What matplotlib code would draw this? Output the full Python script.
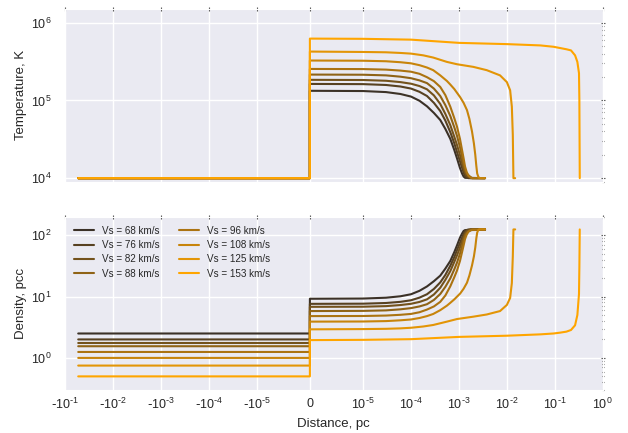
import matplotlib
matplotlib.use("Agg")
import matplotlib.pyplot as plt
from matplotlib.ticker import FuncFormatter
import seaborn as sns
import numpy as np

sns.set_style("darkgrid")
plt.rcParams['font.family'] = ['Liberation Sans', 'DejaVu Sans']
plt.rcParams['axes.unicode_minus'] = False

# ---------------- data ----------------
velocities = [68, 76, 82, 88, 96, 108, 125, 153]
x_start = -0.053            # pc, left end of pre-shock gas
T_pre = 1.0e4               # K
n_pre = [2.5, 2.0, 1.75, 1.55, 1.25, 1.0, 0.75, 0.5]

x_68 = [0, 1e-5, 3e-5, 6e-5, 1e-4, 1.5e-4, 2.15e-4, 3e-4, 4.07e-4, 5.2e-4, 6.6e-4, 8e-4,
        9.1e-4, 1.05e-3, 1.16e-3, 1.25e-3, 1.34e-3, 3.5e-3]
T_68 = [1.33e5, 1.32e5, 1.28e5, 1.21e5, 1.12e5, 9.9e4, 8.4e4, 6.9e4, 5.6e4, 4.3e4, 3.2e4, 2.3e4,
        1.8e4, 1.35e4, 1.15e4, 1.05e4, 1.01e4, 1.0e4]
n_68 = [9.2, 9.28, 9.57, 10.1, 10.9, 12.4, 14.6, 17.8, 21.9, 28.5, 38, 53,
        68, 91, 106, 117, 121, 122]

x_76 = [0, 1e-5, 3e-5, 6e-5, 1e-4, 1.5e-4, 2.15e-4, 3e-4, 4.07e-4, 5.2e-4, 6.6e-4, 8e-4,
        9.1e-4, 1.05e-3, 1.16e-3, 1.25e-3, 1.34e-3, 1.45e-3, 1.58e-3, 3.5e-3]
T_76 = [1.63e5, 1.62e5, 1.58e5, 1.51e5, 1.42e5, 1.29e5, 1.14e5, 9.3e4, 7.3e4, 5.5e4, 3.9e4, 2.8e4,
        2.17e4, 1.65e4, 1.36e4, 1.18e4, 1.07e4, 1.02e4, 1.0e4, 1.0e4]
n_76 = [7.6, 7.65, 7.85, 8.2, 8.7, 9.6, 10.9, 13.3, 17, 22.5, 31.8, 44,
        57, 75, 91, 105, 116, 121.5, 124, 124]

x_82 = [0, 1e-5, 3e-5, 6e-5, 1e-4, 1.5e-4, 2.15e-4, 3e-4, 4.07e-4, 5.2e-4, 6.6e-4, 8e-4,
        9.1e-4, 1.05e-3, 1.16e-3, 1.25e-3, 1.34e-3, 1.45e-3, 1.58e-3, 1.75e-3, 3.5e-3]
T_82 = [1.84e5, 1.83e5, 1.79e5, 1.72e5, 1.64e5, 1.53e5, 1.39e5, 1.16e5, 9.0e4, 6.7e4, 4.8e4, 3.4e4,
        2.67e4, 1.98e4, 1.57e4, 1.33e4, 1.17e4, 1.08e4, 1.04e4, 1.0e4, 1.0e4]
n_82 = [6.8, 6.83, 6.98, 7.27, 7.62, 8.17, 9.0, 10.8, 13.9, 18.7, 26, 36.8,
        46.8, 63, 79.6, 94, 107, 115.7, 120, 125, 125]

x_88 = [0, 1e-5, 3e-5, 6e-5, 1e-4, 1.5e-4, 2.15e-4, 3e-4, 4.07e-4, 5.2e-4, 6.6e-4, 8e-4,
        9.1e-4, 1.05e-3, 1.16e-3, 1.25e-3, 1.34e-3, 1.45e-3, 1.58e-3, 1.75e-3, 1.9e-3, 3.5e-3]
T_88 = [2.15e5, 2.14e5, 2.1e5, 2.02e5, 1.93e5, 1.81e5, 1.67e5, 1.42e5, 1.14e5, 8.7e4, 6.3e4, 4.5e4,
        3.5e4, 2.5e4, 1.87e4, 1.5e4, 1.28e4, 1.15e4, 1.09e4, 1.03e4, 1.0e4, 1.0e4]
n_88 = [5.8, 5.84, 5.95, 6.19, 6.48, 6.9, 7.5, 8.8, 11, 14.4, 19.8, 27.8,
        35.7, 50, 67, 83, 98, 109, 115, 121, 125, 125]

x_96 = [0, 1e-5, 3e-5, 6e-5, 1e-4, 1.5e-4, 2.15e-4, 3e-4, 4.07e-4, 5.2e-4, 6.6e-4, 8e-4,
        9.1e-4, 1.05e-3, 1.16e-3, 1.25e-3, 1.34e-3, 1.45e-3, 1.58e-3, 1.75e-3, 1.9e-3, 3.5e-3]
T_96 = [2.54e5, 2.53e5, 2.49e5, 2.42e5, 2.34e5, 2.2e5, 1.99e5, 1.77e5, 1.49e5, 1.17e5, 8.3e4, 5.9e4,
        4.6e4, 3.2e4, 2.3e4, 1.8e4, 1.41e4, 1.2e4, 1.07e4, 1.02e4, 1.0e4, 1.0e4]
n_96 = [4.8, 4.82, 4.9, 5.04, 5.21, 5.55, 6.13, 6.9, 8.2, 10.4, 14.7, 20.7,
        26.5, 38, 53, 68, 86.5, 102, 114, 119.6, 122, 122]

x_108 = [0, 1e-5, 3e-5, 6e-5, 1e-4, 1.5e-4, 2.15e-4, 2.9e-4, 4.07e-4, 5.6e-4, 6.6e-4, 8e-4,
         1.06e-3, 1.25e-3, 1.47e-3, 1.65e-3, 1.87e-3, 2.05e-3, 2.19e-3, 2.3e-3, 2.4e-3, 2.55e-3,
         2.76e-3, 3.5e-3]
T_108 = [3.26e5, 3.24e5, 3.19e5, 3.1e5, 3.0e5, 2.84e5, 2.65e5, 2.45e5, 2.1e5, 1.78e5, 1.6e5, 1.4e5,
         1.1e5, 9.3e4, 7.5e4, 5.8e4, 4.0e4, 2.8e4, 2.0e4, 1.45e4, 1.15e4, 1.03e4,
         1.0e4, 1.0e4]
n_108 = [3.9, 3.92, 3.98, 4.1, 4.23, 4.47, 4.8, 5.2, 6.0, 7.1, 7.9, 9.0,
         11.2, 13.4, 16.8, 22, 32, 45, 63, 88, 110, 123,
         125, 125]

x_125 = [0, 1e-5, 3e-5, 6e-5, 1e-4, 1.8e-4, 2.9e-4, 5.6e-4, 9.1e-4, 2.0e-3, 3.8e-3, 7.2e-3,
         1.0e-2, 1.17e-2, 1.27e-2, 1.33e-2, 1.37e-2, 1.49e-2]
T_125 = [4.25e5, 4.2e5, 4.16e5, 4.08e5, 4.0e5, 3.8e5, 3.56e5, 3.13e5, 2.92e5, 2.7e5, 2.45e5, 2.1e5,
         1.72e5, 1.35e5, 8.3e4, 3.6e4, 1.0e4, 1.0e4]
n_125 = [2.92, 2.95, 2.98, 3.03, 3.1, 3.25, 3.44, 3.9, 4.3, 4.7, 5.1, 5.8,
         7.3, 9.5, 16.6, 45, 124, 124]

x_153 = [0, 1e-5, 1e-4, 1e-3, 1e-2, 0.05, 0.094, 0.129, 0.175, 0.218, 0.265, 0.296, 0.32, 0.326, 0.332]
T_153 = [6.24e5, 6.2e5, 6.05e5, 5.5e5, 5.3e5, 5.1e5, 4.9e5, 4.72e5, 4.55e5, 4.4e5, 3.8e5, 3.13e5, 2.24e5, 1.0e5, 1.0e4]
n_153 = [1.95, 1.97, 2.02, 2.2, 2.3, 2.42, 2.5, 2.58, 2.68, 2.85, 3.4, 5.0, 11, 30, 124]

x_post = [x_68, x_76, x_82, x_88, x_96, x_108, x_125, x_153]
T_post = [T_68, T_76, T_82, T_88, T_96, T_108, T_125, T_153]
n_post = [n_68, n_76, n_82, n_88, n_96, n_108, n_125, n_153]

xticks = [-1e-1, -1e-2, -1e-3, -1e-4, -1e-5, 0, 1e-5, 1e-4, 1e-3, 1e-2, 1e-1, 1e0]


def sym_fmt(v, pos):
    if v == 0:
        return r"$\mathdefault{0}$"
    e = int(round(np.log10(abs(v))))
    sign = r"\text{-}" if v < 0 else ""
    exp = (r"\text{-}%d" % -e) if e < 0 else "%d" % e
    return r"$\mathdefault{%s10^{%s}}$" % (sign, exp)


# ---------------- plot ----------------
colors = sns.blend_palette(['#3b3127', '#ffa500'], len(velocities))

fig = plt.figure(figsize=(6.28, 4.33), dpi=100)
ax1 = fig.add_axes([65/628, 1-181.7/433, 537.7/628, 172.7/433])
ax2 = fig.add_axes([65/628, 1-390/433, 537.7/628, 173.3/433], sharex=ax1)

for v, c, npre, xs, Ts, ns in zip(velocities, colors, n_pre, x_post, T_post, n_post):
    xx = [x_start, 0] + list(xs)
    ax1.plot(xx, [T_pre, T_pre] + list(Ts), color=c, lw=1.5)
    ax2.plot(xx, [npre, npre] + list(ns), color=c, lw=1.5, label=f"Vs = {v} km/s")

for ax in (ax1, ax2):
    ax.set_xscale('symlog', linthresh=1e-5, linscale=1)
    ax.set_yscale('log')
    ax.set_xlim(-0.1, 1)
    ax.set_xticks(xticks)
    ax.xaxis.set_major_formatter(FuncFormatter(sym_fmt))
    ax.tick_params(which='both', direction='inout', top=True, right=True,
                   color='0.35', width=0.8, labelsize=9)
    ax.tick_params(which='major', length=3)
    ax.tick_params(which='minor', length=2)
    ax.tick_params(axis='y', which='major', pad=8)
    ax.grid(True, which='major', color='white', lw=1)
    ax.grid(False, which='minor')

ax1.set_ylim(9.0e3, 1.5e6)
ax2.set_ylim(0.3, 200)
ax1.tick_params(labelbottom=False)

ax1.set_ylabel("Temperature, K", fontsize=9.5, labelpad=3)
ax2.set_ylabel("Density, pcc", fontsize=9.5, labelpad=3)
ax2.set_xlabel("Distance, pc", fontsize=9.5)

ax2.legend(loc='upper left', ncol=2, frameon=False, fontsize=7.1,
           handlelength=2.0, labelspacing=0.45, columnspacing=2.0,
           handletextpad=0.85)

fig.savefig("out.png", dpi=100)
